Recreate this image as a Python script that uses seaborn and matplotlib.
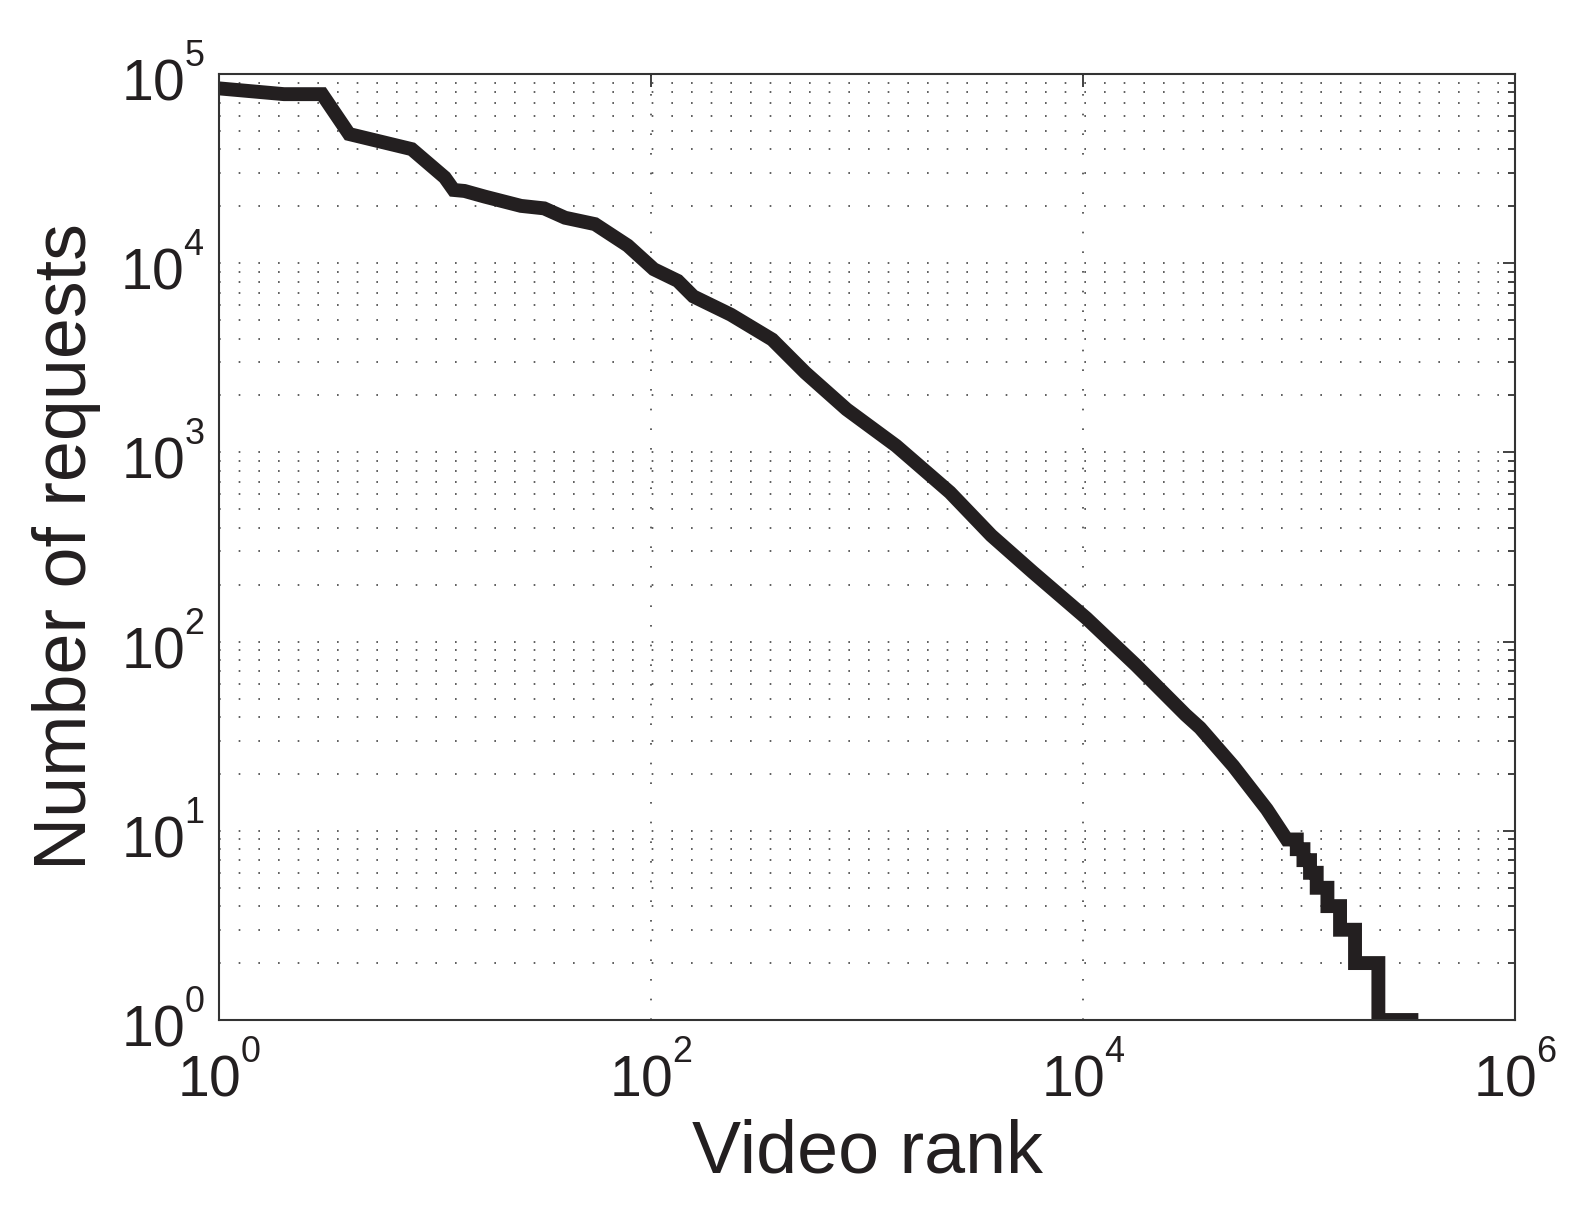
import numpy as np
import pandas as pd
import matplotlib
matplotlib.use('Agg')
import matplotlib.pyplot as plt
import matplotlib.ticker as mticker
import matplotlib._mathtext as mathtext_internal
import seaborn as sns

# values (rank -> number of requests)
video_rank = [1, 2, 3, 4, 7.8, 11.1, 12.2, 13.7, 17, 25, 32, 40, 55, 78, 103,
              133, 157, 234, 364, 518, 804, 1364, 2420, 3760, 5850, 10360,
              17600, 29850, 34800, 49600, 70900, 87700,
              97600, 97600, 104800, 104800, 112400, 112400, 120700, 120700,
              135300, 135300, 154800, 154800, 181600, 181600, 232900, 232900,
              356700]
num_requests = [84000, 78300, 78300, 48200, 40100, 28400, 24400, 24100, 22500,
                20100, 19500, 17400, 16100, 12400, 9300, 8070, 6680, 5350,
                3950, 2640, 1690, 1084, 615, 364, 233, 133, 75, 41, 35, 22, 13,
                9,
                9, 8, 8, 7, 7, 6, 6, 5, 5, 4, 4, 3, 3, 2, 2, 1, 1]

x_ticks = [1, 1e2, 1e4, 1e6]
y_ticks = [1, 1e1, 1e2, 1e3, 1e4, 1e5]

df = pd.DataFrame({'rank': video_rank, 'requests': num_requests})

sns.set_style('white')
plt.rcParams['font.family'] = ['Liberation Sans', 'DejaVu Sans']
plt.rcParams['mathtext.fontset'] = 'custom'
plt.rcParams['mathtext.rm'] = 'Liberation Sans'
# smaller, higher exponents, like the MATLAB-style labels
mathtext_internal.SHRINK_FACTOR = 0.63
mathtext_internal.FontConstantsBase.sup1 = 1.15
ink = '#231f20'

fig = plt.figure(figsize=(15.71, 12.12), dpi=100)
ax = fig.add_axes([0.1394, 0.1584, 0.825, 0.7805])

sns.lineplot(data=df, x='rank', y='requests', sort=False, estimator=None,
             color=ink, linewidth=10, ax=ax,
             solid_joinstyle='miter', solid_capstyle='butt')

ax.set_xscale('log')
ax.set_yscale('log')
ax.set_xlim(1, 1e6)
ax.set_ylim(1, 1e5)

ax.xaxis.set_major_locator(mticker.FixedLocator(x_ticks))
ax.xaxis.set_minor_locator(mticker.NullLocator())
ax.yaxis.set_major_locator(mticker.FixedLocator(y_ticks))
ax.yaxis.set_minor_locator(mticker.LogLocator(base=10, subs=range(2, 10), numticks=20))
ax.yaxis.set_minor_formatter(mticker.NullFormatter())

fmt = mticker.FuncFormatter(lambda v, p: r'$\mathregular{10^{%d}}$' % round(np.log10(v)))
ax.xaxis.set_major_formatter(fmt)
ax.yaxis.set_major_formatter(fmt)

dots = (0, (1, 10.8))
ax.yaxis.grid(True, which='both', linestyle=dots, linewidth=1.2, color='#444444')
ax.xaxis.grid(True, which='major', linestyle=dots, linewidth=1.2, color='#444444')
ax.set_axisbelow(True)

for s in ax.spines.values():
    s.set_visible(True)
    s.set_linewidth(1.5)
    s.set_color('#333333')

ax.tick_params(which='both', direction='in', top=True, right=True,
               color='#333333', width=1.3)
ax.tick_params(which='major', length=9, labelsize=41, labelcolor=ink)
ax.tick_params(which='minor', length=5)
ax.tick_params(axis='x', pad=17)
ax.tick_params(axis='y', pad=10)

ax.set_xlabel('Video rank', fontsize=53, color=ink, labelpad=7)
ax.set_ylabel('Number of requests', fontsize=53, color=ink, labelpad=14)

fig.savefig('out.png', dpi=100)
